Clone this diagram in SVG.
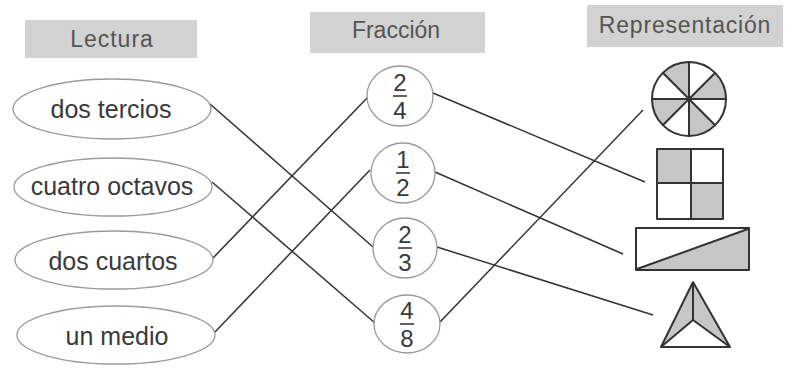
<svg xmlns="http://www.w3.org/2000/svg" width="792" height="370" viewBox="0 0 792 370">
<style>
.hdr{fill:#d2d2d2;stroke:none}
.htxt{font-family:"Liberation Sans",Arial,sans-serif;font-size:23px;fill:#555;text-anchor:middle}
.ell{fill:#fff;stroke:#9a9a9a;stroke-width:1.3}
.ltxt{font-family:"Liberation Sans",Arial,sans-serif;font-size:25px;fill:#3a3a3a;text-anchor:middle}
.ftxt{font-family:"Liberation Sans",Arial,sans-serif;font-size:24px;fill:#3a3a3a;text-anchor:middle}
.bar{stroke:#3a3a3a;stroke-width:1.6}
.conn line{stroke:#333;stroke-width:1.5;fill:none}
.out{stroke:#333;stroke-width:2;fill:none;stroke-linejoin:round}
.sh{fill:#c6c6c6;stroke:none}
.ln{stroke:#333;stroke-width:2}
</style>
<rect width="792" height="370" fill="#fff"/>

<g id="hdr-lectura"><rect class="hdr" x="25" y="20" width="172" height="38"/><text class="htxt" x="112" y="47" letter-spacing="1">Lectura</text></g>
<g id="hdr-fraccion"><rect class="hdr" x="310" y="12" width="175" height="41"/><text class="htxt" x="396" y="38">Fracción</text></g>
<g id="hdr-representacion"><rect class="hdr" x="587" y="5" width="196" height="42"/><text class="htxt" x="685" y="33" letter-spacing="0.8">Representación</text></g>

<g class="conn" id="connectors">
<line x1="210" y1="104" x2="373" y2="247"/>
<line x1="212" y1="182" x2="375" y2="323"/>
<line x1="213" y1="258" x2="368" y2="97"/>
<line x1="215" y1="332" x2="370" y2="170"/>
<line x1="433" y1="93" x2="645" y2="182"/>
<line x1="435" y1="172" x2="623" y2="254"/>
<line x1="437" y1="247" x2="653" y2="315"/>
<line x1="440" y1="322" x2="643" y2="110"/>
</g>

<g id="l-dos-tercios"><ellipse class="ell" cx="112" cy="109" rx="99" ry="30"/><text class="ltxt" x="111" y="118">dos tercios</text></g>
<g id="l-cuatro-octavos"><ellipse class="ell" cx="113" cy="187" rx="99" ry="29"/><text class="ltxt" x="112" y="195">cuatro octavos</text></g>
<g id="l-dos-cuartos"><ellipse class="ell" cx="114" cy="260" rx="99" ry="29"/><text class="ltxt" x="113" y="270">dos cuartos</text></g>
<g id="l-un-medio"><ellipse class="ell" cx="116" cy="335" rx="99" ry="29"/><text class="ltxt" x="117" y="345">un medio</text></g>

<g id="f-2-4"><ellipse class="ell" cx="400" cy="96" rx="33" ry="30"/><text class="ftxt" x="400" y="91">2</text><line class="bar" x1="393" y1="96" x2="407" y2="96"/><text class="ftxt" x="400" y="119">4</text></g>
<g id="f-1-2"><ellipse class="ell" cx="403" cy="173" rx="32" ry="30"/><text class="ftxt" x="403" y="168">1</text><line class="bar" x1="396" y1="173" x2="410" y2="173"/><text class="ftxt" x="403" y="196">2</text></g>
<g id="f-2-3"><ellipse class="ell" cx="405" cy="248" rx="32" ry="30"/><text class="ftxt" x="405" y="243">2</text><line class="bar" x1="398" y1="248" x2="412" y2="248"/><text class="ftxt" x="405" y="271">3</text></g>
<g id="f-4-8"><ellipse class="ell" cx="407" cy="324" rx="33" ry="29"/><text class="ftxt" x="407" y="319">4</text><line class="bar" x1="400" y1="324" x2="414" y2="324"/><text class="ftxt" x="407" y="347">8</text></g>

<g id="r-circle">
<circle cx="689" cy="99" r="37" fill="#fff"/>
<path class="sh" d="M689,99 L662.8,72.8 A37,37 0 0 1 689,62 Z"/>
<path class="sh" d="M689,99 L715.2,72.8 A37,37 0 0 1 726,99 Z"/>
<path class="sh" d="M689,99 L715.2,125.2 A37,37 0 0 1 689,136 Z"/>
<path class="sh" d="M689,99 L652,99 A37,37 0 0 0 662.8,125.2 Z"/>
<circle class="out" cx="689" cy="99" r="37"/>
<line class="ln" x1="689" y1="62" x2="689" y2="136"/>
<line class="ln" x1="652" y1="99" x2="726" y2="99"/>
<line class="ln" x1="662.8" y1="72.8" x2="715.2" y2="125.2"/>
<line class="ln" x1="715.2" y1="72.8" x2="662.8" y2="125.2"/>
</g>

<g id="r-square">
<rect x="657" y="149" width="66" height="70" fill="#fff"/>
<rect class="sh" x="657" y="149" width="34" height="34"/>
<rect class="sh" x="691" y="183" width="32" height="36"/>
<rect class="out" x="657" y="149" width="66" height="70"/>
<line class="ln" x1="691" y1="149" x2="691" y2="219"/>
<line class="ln" x1="657" y1="183" x2="723" y2="183"/>
</g>

<g id="r-rect">
<rect x="636" y="228" width="113" height="42" fill="#fff"/>
<polygon class="sh" points="637,269 748,229 748,269"/>
<rect class="out" x="636" y="228" width="113" height="42"/>
<line class="ln" x1="637" y1="269" x2="748" y2="229"/>
</g>

<g id="r-triangle">
<polygon class="sh" points="693,282 661,347 693,320"/>
<polygon class="sh" points="693,282 730,347 693,320"/>
<polygon class="out" points="693,282 661,347 730,347"/>
<polyline class="out" points="661,347 693,320 730,347"/>
<line class="ln" x1="693" y1="282" x2="693" y2="320"/>
</g>
</svg>
